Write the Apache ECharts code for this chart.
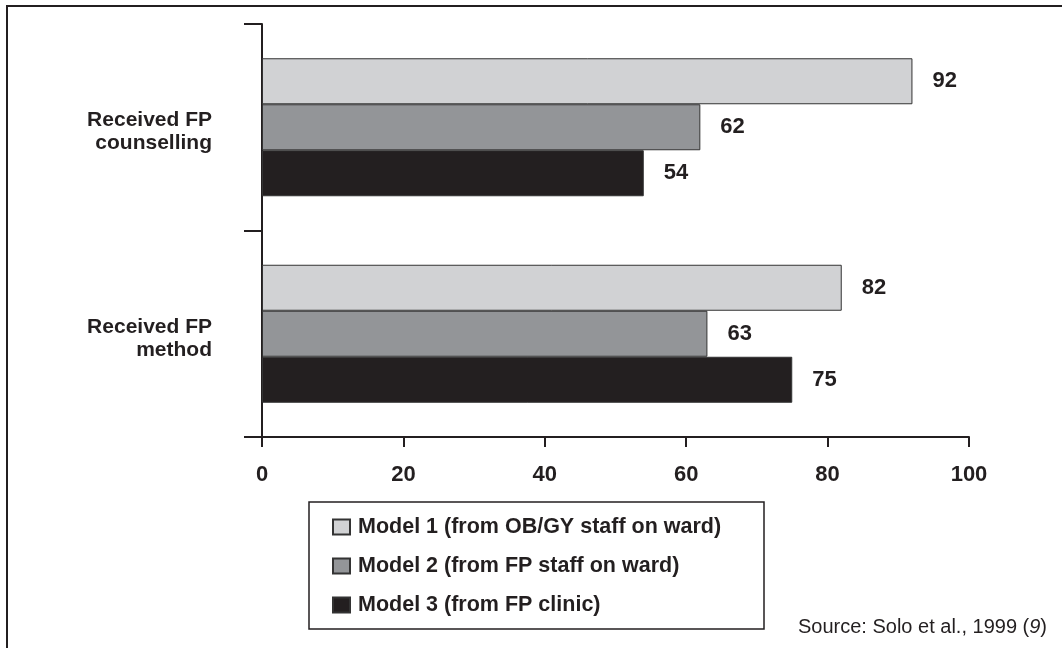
<!DOCTYPE html>
<html>
<head>
<meta charset="utf-8">
<script src="https://cdn.jsdelivr.net/npm/echarts@6/dist/echarts.min.js"></script>
<style>
html,body{margin:0;padding:0;background:#fff;}
#chart{width:1062px;height:648px;}
</style>
</head>
<body>
<div id="chart"></div>
<script>
const categories = ["Received FP\ncounselling", "Received FP\nmethod"];
const seriesNames = ["Model 1 (from OB/GY staff on ward)", "Model 2 (from FP staff on ward)", "Model 3 (from FP clinic)"];
const model1 = [92, 82];
const model2 = [62, 63];
const model3 = [54, 75];
const xTicks = [0, 20, 40, 60, 80, 100];
const sourceText = "Source: Solo et al., 1999 (";
const sourceRef = "9";

const FONT = '"Liberation Sans", Arial, Helvetica, sans-serif';
const INK = '#231f20';
const colors = ['#d1d2d4', '#939598', '#231f20'];
const values = [model1, model2, model3];

const chart = echarts.init(document.getElementById('chart'));
chart.setOption({
  animation: false,
  backgroundColor: '#ffffff',
  textStyle: { fontFamily: FONT },
  grid: { left: 262, right: 93, top: 24, bottom: 211, containLabel: false },
  xAxis: {
    type: 'value', min: xTicks[0], max: xTicks[xTicks.length - 1], interval: xTicks[1] - xTicks[0],
    axisLine: { show: true, lineStyle: { color: INK, width: 2 } },
    axisTick: { show: true, length: 10, lineStyle: { color: INK, width: 2 } },
    axisLabel: { margin: 27, fontSize: 22, fontWeight: 'bold', color: INK, fontFamily: FONT },
    splitLine: { show: false }
  },
  yAxis: {
    type: 'category', data: categories, inverse: true,
    axisLine: { show: true, lineStyle: { color: INK, width: 2 } },
    axisTick: { show: true, length: 18, lineStyle: { color: INK, width: 2 } },
    axisLabel: {
      margin: 50, color: INK, align: 'right',
      formatter: function (v) { return '{c|' + v.split('\n').join('}\n{c|') + '}'; },
      rich: { c: { fontSize: 21, fontWeight: 'bold', color: INK, fontFamily: FONT, lineHeight: 23, padding: [9, 0, 0, 0] } }
    },
    splitLine: { show: false }
  },
  legend: {
    orient: 'vertical', left: 327, top: 511,
    itemWidth: 17, itemHeight: 15, itemGap: 17, icon: 'rect',
    textStyle: { fontSize: 21.5, fontWeight: 'bold', color: INK, fontFamily: FONT, padding: [0, 0, 0, 3] },
    data: seriesNames
  },
  title: {
    text: '{a|' + sourceText + '}{b|' + sourceRef + '}{a|)}',
    right: 10, top: 612,
    textStyle: {
      fontWeight: 'normal',
      rich: {
        a: { fontSize: 20, fontWeight: 'normal', color: INK, fontFamily: FONT },
        b: { fontSize: 20, fontWeight: 'normal', color: INK, fontFamily: FONT, fontStyle: 'italic' }
      }
    }
  },
  graphic: [
    { type: 'rect', shape: { x: 7, y: 6, width: 1070, height: 660 }, style: { fill: 'none', stroke: INK, lineWidth: 2 }, silent: true },
    { type: 'rect', shape: { x: 309, y: 502, width: 455, height: 127 }, style: { fill: 'none', stroke: INK, lineWidth: 1.5 }, silent: true }
  ],
  series: seriesNames.map((name, i) => ({
    name: name, type: 'bar', data: values[i],
    barWidth: 46, barGap: '0%',
    itemStyle: { color: colors[i], borderColor: '#333333', borderWidth: 1 },
    label: { show: true, position: 'right', distance: 20, fontSize: 22, fontWeight: 'bold', color: INK, fontFamily: FONT }
  }))
});
</script>
</body>
</html>
